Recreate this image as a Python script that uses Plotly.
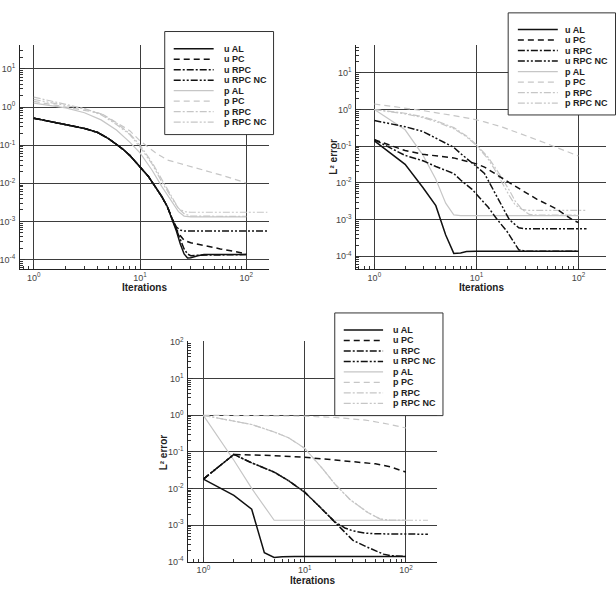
import plotly.graph_objects as go

W, H = 616, 598

# ---------------- data: top-left panel ----------------
a_u_al_x = [1, 2, 3, 4, 5, 6, 7, 8, 10, 12, 14, 16, 18, 20, 22, 24, 26, 28, 30, 35, 40, 60, 100]
a_u_al_y = [5.1e-1, 3.55e-1, 2.75e-1, 2.14e-1, 1.51e-1, 1.05e-1, 7.6e-2, 5.4e-2, 2.7e-2, 1.5e-2, 7.9e-3,
            4.5e-3, 2.5e-3, 1.2e-3, 5.6e-4, 2.5e-4, 1.4e-4, 1.1e-4, 1.12e-4, 1.26e-4, 1.35e-4, 1.35e-4, 1.35e-4]
a_u_pc_x = [1, 2, 3, 4, 5, 6, 7, 8, 10, 12, 14, 16, 18, 20, 22, 24, 26, 30, 40, 57, 80, 100]
a_u_pc_y = [5.1e-1, 3.55e-1, 2.75e-1, 2.14e-1, 1.51e-1, 1.05e-1, 7.6e-2, 5.4e-2, 2.7e-2, 1.5e-2, 7.9e-3,
            4.5e-3, 2.5e-3, 1.2e-3, 6.3e-4, 4.2e-4, 3.2e-4, 2.75e-4, 2.3e-4, 1.9e-4, 1.6e-4, 1.4e-4]
a_u_rpc_x = [1, 2, 3, 4, 5, 6, 7, 8, 10, 12, 14, 16, 18, 20, 22, 24, 26, 28, 30, 35, 100]
a_u_rpc_y = [5.1e-1, 3.55e-1, 2.75e-1, 2.14e-1, 1.51e-1, 1.05e-1, 7.6e-2, 5.4e-2, 2.7e-2, 1.5e-2, 7.9e-3,
             4.5e-3, 2.5e-3, 1.2e-3, 5.6e-4, 3.2e-4, 1.9e-4, 1.4e-4, 1.26e-4, 1.3e-4, 1.35e-4]
a_u_rpcnc_x = [1, 2, 3, 4, 5, 6, 7, 8, 10, 12, 14, 16, 18, 20, 22, 24, 26, 158]
a_u_rpcnc_y = [5.1e-1, 3.55e-1, 2.75e-1, 2.14e-1, 1.51e-1, 1.05e-1, 7.6e-2, 5.4e-2, 2.7e-2, 1.5e-2, 7.9e-3,
               4.5e-3, 2.5e-3, 1.2e-3, 7.1e-4, 5.9e-4, 5.6e-4, 5.6e-4]
a_p_al_x = [1, 2, 3, 4.3, 6, 8, 10, 13, 16, 20, 23, 26, 30, 100]
a_p_al_y = [1.26, 0.95, 0.71, 0.46, 0.25, 0.12, 6.3e-2, 2.2e-2, 8.3e-3, 3.2e-3, 1.8e-3, 1.38e-3, 1.32e-3, 1.32e-3]
a_p_pc_x = [1, 2, 3, 4.3, 5.2, 6.5, 8, 10, 11.7, 14, 18, 25, 40, 60, 100]
a_p_pc_y = [1.41, 1.0, 0.83, 0.68, 0.5, 0.34, 0.24, 0.13, 9.1e-2, 6.3e-2, 4.1e-2, 3.2e-2, 2.2e-2, 1.6e-2, 1.02e-2]
a_p_rpc_x = [1, 2, 3, 4.3, 6, 8, 10, 13, 16, 20, 23, 26, 30, 100]
a_p_rpc_y = [1.82, 1.15, 0.91, 0.66, 0.38, 0.2, 0.1, 3.5e-2, 1.26e-2, 4.2e-3, 2.2e-3, 1.6e-3, 1.38e-3, 1.35e-3]
a_p_rpcnc_x = [1, 2, 3, 4.3, 6, 8, 10, 13, 16, 20, 23, 26, 30, 158]
a_p_rpcnc_y = [1.58, 1.12, 0.89, 0.63, 0.35, 0.19, 8.9e-2, 3.2e-2, 1.1e-2, 4.0e-3, 2.2e-3, 1.8e-3, 1.74e-3, 1.74e-3]

# ---------------- data: top-right panel ----------------
b_u_al_x = [1, 2, 3, 4, 5, 6, 7, 8, 10, 20, 50, 100]
b_u_al_y = [1.4e-1, 3.2e-2, 7.4e-3, 2.4e-3, 3.8e-4, 1.2e-4, 1.23e-4, 1.35e-4, 1.38e-4, 1.38e-4, 1.38e-4, 1.38e-4]
b_u_pc_x = [1, 2, 3, 6, 10, 12, 21, 39, 60, 89, 100]
b_u_pc_y = [1.5e-1, 7.6e-2, 6.0e-2, 4.8e-2, 3.3e-2, 2.7e-2, 1.02e-2, 3.6e-3, 2.0e-3, 9.5e-4, 8.3e-4]
b_u_rpc_x = [1, 2, 3, 4, 6, 7, 9, 13, 16, 20, 26, 30, 100]
b_u_rpc_y = [1.5e-1, 5.6e-2, 4.0e-2, 2.8e-2, 1.8e-2, 1.2e-2, 6.8e-3, 2.2e-3, 1.0e-3, 4.7e-4, 1.5e-4, 1.38e-4, 1.38e-4]
b_u_rpcnc_x = [1, 2, 3, 4, 6, 7, 8, 10, 12, 14, 17, 21, 26, 30, 120]
b_u_rpcnc_y = [5.0e-1, 3.4e-1, 2.5e-1, 1.66e-1, 9.3e-2, 6.3e-2, 4.7e-2, 2.8e-2, 1.8e-2, 8.3e-3, 3.0e-3,
               1.0e-3, 6.0e-4, 5.6e-4, 5.6e-4]
b_p_al_x = [1, 2, 3, 4, 5, 6, 7, 100]
b_p_al_y = [1.0, 2.8e-1, 5.6e-2, 1.26e-2, 2.8e-3, 1.35e-3, 1.29e-3, 1.29e-3]
b_p_pc_x = [1, 3, 6, 9, 12, 18, 39, 89, 100]
b_p_pc_y = [1.41, 0.93, 0.68, 0.56, 0.46, 0.33, 0.15, 6.0e-2, 5.4e-2]
b_p_rpc_x = [1, 2, 3, 4, 6, 8, 10, 13, 15, 17, 21, 24, 28, 33, 40, 100]
b_p_rpc_y = [1.0, 0.79, 0.63, 0.5, 0.32, 0.19, 0.11, 5.0e-2, 2.8e-2, 1.66e-2, 6.3e-3, 3.2e-3, 1.9e-3,
             1.38e-3, 1.32e-3, 1.32e-3]
b_p_rpcnc_x = [1, 2, 3, 4, 6, 8, 10, 13, 15, 17, 21, 24, 28, 32, 120]
b_p_rpcnc_y = [1.0, 0.76, 0.6, 0.47, 0.3, 0.18, 0.105, 4.5e-2, 2.4e-2, 1.26e-2, 4.5e-3, 2.5e-3, 1.9e-3,
               1.78e-3, 1.78e-3]

# ---------------- data: bottom panel ----------------
c_u_al_x = [1, 2, 3, 4, 5, 6, 8, 10, 20, 50, 100]
c_u_al_y = [1.8e-2, 6.5e-3, 2.7e-3, 1.74e-4, 1.29e-4, 1.35e-4, 1.38e-4, 1.38e-4, 1.38e-4, 1.38e-4, 1.38e-4]
c_u_pc_x = [1, 2, 5, 10, 20, 30, 50, 70, 100]
c_u_pc_y = [1.8e-2, 8.5e-2, 7.9e-2, 7.1e-2, 6.0e-2, 5.4e-2, 4.7e-2, 3.9e-2, 2.8e-2]
c_u_rpc_x = [1, 2, 3, 4, 5, 7, 10, 14, 20, 25, 30, 40, 50, 60, 70, 100]
c_u_rpc_y = [1.8e-2, 8.5e-2, 5.0e-2, 3.7e-2, 2.8e-2, 1.6e-2, 7.9e-3, 3.2e-3, 1.2e-3, 6.3e-4, 3.8e-4,
             2.6e-4, 2.0e-4, 1.6e-4, 1.45e-4, 1.38e-4]
c_u_rpcnc_x = [1, 2, 3, 4, 5, 7, 10, 14, 20, 25, 30, 40, 50, 165]
c_u_rpcnc_y = [1.8e-2, 8.5e-2, 5.0e-2, 3.7e-2, 2.8e-2, 1.6e-2, 7.9e-3, 3.2e-3, 1.2e-3, 8.3e-4, 6.9e-4,
               6.0e-4, 5.75e-4, 5.6e-4]
c_p_al_x = [1, 2, 3, 4, 5, 10, 100]
c_p_al_y = [1.0, 5.9e-2, 1.0e-2, 3.2e-3, 1.35e-3, 1.35e-3, 1.35e-3]
c_p_pc_x = [1, 5, 10, 20, 40, 70, 100]
c_p_pc_y = [1.0, 0.99, 0.95, 0.87, 0.74, 0.56, 0.45]
c_p_rpc_x = [1, 2, 3, 5, 7, 10, 15, 20, 28, 42, 56, 70, 100]
c_p_rpc_y = [1.0, 0.71, 0.56, 0.35, 0.24, 0.126, 3.5e-2, 1.3e-2, 5.0e-3, 2.2e-3, 1.45e-3, 1.35e-3, 1.35e-3]
c_p_rpcnc_x = [1, 2, 3, 5, 7, 10, 15, 20, 28, 42, 56, 70, 165]
c_p_rpcnc_y = [1.0, 0.71, 0.56, 0.35, 0.24, 0.126, 3.5e-2, 1.3e-2, 5.0e-3, 2.2e-3, 1.45e-3, 1.35e-3, 1.35e-3]

series_names = ["u AL", "u PC", "u RPC", "u RPC NC", "p AL", "p PC", "p RPC", "p RPC NC"]

x_tickvals = [1, 10, 100]
x_ticktext = ["10<sup>0</sup>", "10<sup>1</sup>", "10<sup>2</sup>"]
y_tickvals = [1e-4, 1e-3, 1e-2, 1e-1, 1, 10, 100]
y_ticktext = ["10<sup>-4</sup>", "10<sup>-3</sup>", "10<sup>-2</sup>", "10<sup>-1</sup>",
              "10<sup>0</sup>", "10<sup>1</sup>", "10<sup>2</sup>"]

# ---------------- styles ----------------
BLACK = "#111111"
GRAY = "#c6c6c6"
styles = [
    dict(color=BLACK, width=1.5, dash="solid"),
    dict(color=BLACK, width=1.5, dash="6px,4px"),
    dict(color=BLACK, width=1.5, dash="7px,2px,2px,2px"),
    dict(color=BLACK, width=1.5, dash="7px,2px,2px,2px,2px,2px"),
    dict(color=GRAY, width=1.2, dash="solid"),
    dict(color=GRAY, width=1.2, dash="6px,4px"),
    dict(color=GRAY, width=1.2, dash="7px,2px,2px,2px"),
    dict(color=GRAY, width=1.2, dash="7px,2px,2px,2px,2px,2px"),
]

panels = [
    ("x", "y", [(a_u_al_x, a_u_al_y), (a_u_pc_x, a_u_pc_y), (a_u_rpc_x, a_u_rpc_y), (a_u_rpcnc_x, a_u_rpcnc_y),
                (a_p_al_x, a_p_al_y), (a_p_pc_x, a_p_pc_y), (a_p_rpc_x, a_p_rpc_y), (a_p_rpcnc_x, a_p_rpcnc_y)]),
    ("x2", "y2", [(b_u_al_x, b_u_al_y), (b_u_pc_x, b_u_pc_y), (b_u_rpc_x, b_u_rpc_y), (b_u_rpcnc_x, b_u_rpcnc_y),
                  (b_p_al_x, b_p_al_y), (b_p_pc_x, b_p_pc_y), (b_p_rpc_x, b_p_rpc_y), (b_p_rpcnc_x, b_p_rpcnc_y)]),
    ("x3", "y3", [(c_u_al_x, c_u_al_y), (c_u_pc_x, c_u_pc_y), (c_u_rpc_x, c_u_rpc_y), (c_u_rpcnc_x, c_u_rpcnc_y),
                  (c_p_al_x, c_p_al_y), (c_p_pc_x, c_p_pc_y), (c_p_rpc_x, c_p_rpc_y), (c_p_rpcnc_x, c_p_rpcnc_y)]),
]

fig = go.Figure()
draw_order = [4, 5, 6, 7, 3, 2, 1, 0]
for xa, ya, data in panels:
    for i in draw_order:
        xs, ys = data[i]
        fig.add_trace(go.Scatter(x=xs, y=ys, mode="lines", name=series_names[i], xaxis=xa, yaxis=ya,
                                 line=styles[i], showlegend=False, hoverinfo="skip"))


def px2x(p):
    return p / W


def px2y(p):
    return 1 - p / H


minor_x = [v * m for v in (0.1, 1, 10, 100) for m in range(2, 10)]
minor_y = [v * m for v in (1e-5, 1e-4, 1e-3, 1e-2, 1e-1, 1, 10, 100) for m in range(2, 10)]

tickfont = dict(family="Liberation Sans, Arial, sans-serif", size=9, color="#444444")
common = dict(type="log", tickmode="array", ticks="inside", ticklen=5, tickcolor="#333333", tickwidth=1,
              showline=True, linecolor="#222222", linewidth=1, showgrid=True, gridcolor="#3d3d3d",
              gridwidth=1, zeroline=False, tickfont=tickfont)


def xax(dom, rng, anchor):
    return dict(common, domain=dom, range=rng, anchor=anchor, tickvals=x_tickvals, ticktext=x_ticktext,
                ticklabelstandoff=0,
                minor=dict(tickmode="array", tickvals=minor_x, ticks="inside", ticklen=3,
                           tickcolor="#333333", showgrid=False))


def yax(dom, rng, anchor):
    return dict(common, domain=dom, range=rng, anchor=anchor, tickvals=y_tickvals, ticktext=y_ticktext,
                ticklabelstandoff=2,
                minor=dict(tickmode="array", tickvals=minor_y, ticks="inside", ticklen=3,
                           tickcolor="#333333", showgrid=False))


layout = dict(
    width=W, height=H, autosize=False, margin=dict(l=0, r=0, t=0, b=0),
    paper_bgcolor="white", plot_bgcolor="white", showlegend=False,
    xaxis=xax([px2x(19), px2x(268)], [-0.13, 2.21], "y"),
    yaxis=yax([px2y(268), px2y(40)], [-4.25, 1.62], "x"),
    xaxis2=xax([px2x(356), px2x(606)], [-0.176, 2.27], "y2"),
    yaxis2=yax([px2y(267.7), px2y(40)], [-4.34, 1.75], "x2"),
    xaxis3=xax([px2x(187.7), px2x(437)], [-0.148, 2.31], "y3"),
    yaxis3=yax([px2y(566), px2y(341.7)], [-4.0, 2.02], "x3"),
)
fig.update_layout(**layout)

shapes = []
annotations = []
title_font = dict(family="Liberation Sans, Arial, sans-serif", size=10, color="#222222")

# axis titles
for cx, cy in [(143.5, 287), (481, 287), (312, 585)]:
    annotations.append(dict(xref="paper", yref="paper", x=px2x(cx), y=px2y(cy), text="<b>Iterations</b>",
                            showarrow=False, xanchor="center", yanchor="middle", font=title_font))
for cx, cy in [(333, 153), (163, 455)]:
    annotations.append(dict(xref="paper", yref="paper", x=px2x(cx), y=px2y(cy), text="<b>L² error</b>",
                            textangle=-90, showarrow=False, xanchor="center", yanchor="middle", font=title_font))

# legends (drawn manually to match the compact layout)
legend_boxes = [
    (164, 26, 273, 131, 173, 213, 221, 43.5),
    (508, 7, 615.5, 111, 517.7, 557.7, 563.3, 24),
    (334.3, 312.7, 442.7, 417.3, 343.3, 382.7, 390.7, 330),
]
row_step = 10.7
legend_font = dict(family="Liberation Sans, Arial, sans-serif", size=9, color="#222222")
for bx0, by0, bx1, by1, lx0, lx1, tx, ry0 in legend_boxes:
    shapes.append(dict(type="rect", xref="paper", yref="paper", x0=px2x(bx0), x1=px2x(bx1),
                       y0=px2y(by1), y1=px2y(by0), fillcolor="white", line=dict(color="#333333", width=1),
                       layer="above"))
    for i, nm in enumerate(series_names):
        ry = ry0 + i * row_step
        st = styles[i]
        shapes.append(dict(type="line", xref="paper", yref="paper", x0=px2x(lx0), x1=px2x(lx1),
                           y0=px2y(ry), y1=px2y(ry), layer="above",
                           line=dict(color=st["color"], width=st["width"], dash=st["dash"])))
        annotations.append(dict(xref="paper", yref="paper", x=px2x(tx), y=px2y(ry), text="<b>" + nm + "</b>",
                                showarrow=False, xanchor="left", yanchor="middle", font=legend_font))

fig.update_layout(shapes=shapes, annotations=annotations)
fig.write_html("out.html")
